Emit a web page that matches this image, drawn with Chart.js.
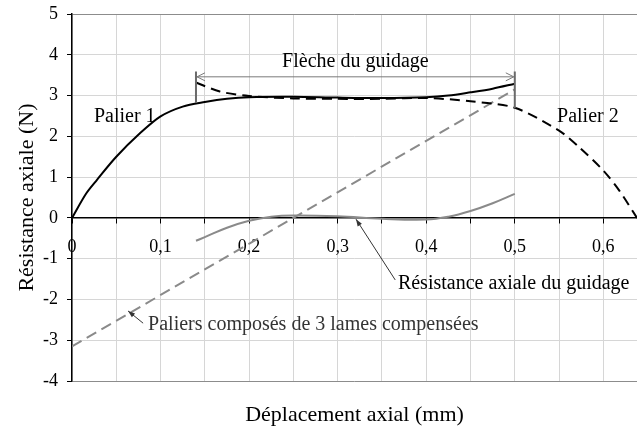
<!DOCTYPE html>
<html>
<head>
<meta charset="utf-8">
<script src="https://cdn.jsdelivr.net/npm/chart.js@4.4.1/dist/chart.umd.min.js"></script>
<style>
  html, body { margin: 0; padding: 0; background: #fff; }
</style>
</head>
<body>
<canvas id="grafica" width="637" height="428"></canvas>
<script>
// Palier 1 (noir, continu)
const palier1X = [0, 0.016, 0.028, 0.05, 0.077, 0.1, 0.125, 0.15, 0.175, 0.2, 0.25, 0.3, 0.35, 0.4, 0.425, 0.45, 0.475, 0.5];
const palier1Y = [0, 0.6, 0.93, 1.5, 2.08, 2.49, 2.73, 2.84, 2.92, 2.96, 2.97, 2.95, 2.94, 2.96, 3.0, 3.08, 3.17, 3.29];

// Palier 2 (noir, pointillé)
const palier2X = [0.14, 0.167, 0.2, 0.25, 0.3, 0.35, 0.4, 0.45, 0.5, 0.55, 0.573, 0.6, 0.618, 0.638];
const palier2Y = [3.32, 3.1, 2.99, 2.93, 2.92, 2.92, 2.94, 2.86, 2.7, 2.14, 1.73, 1.16, 0.67, 0.0];

// Paliers composés de 3 lames compensées (gris, pointillé)
const composesX = [0, 0.25, 0.5];
const composesY = [-3.15, 0, 3.15];

// Résistance axiale du guidage (gris, continu)
const guidageX = [0.14, 0.15, 0.175, 0.2, 0.225, 0.25, 0.3, 0.35, 0.4, 0.425, 0.45, 0.475, 0.5];
const guidageY = [-0.56, -0.47, -0.24, -0.07, 0.03, 0.06, 0.04, -0.02, -0.04, 0.03, 0.17, 0.36, 0.59];

// axes
const yMin = -4, yMax = 5;
const xMin = 0, xMax = 0.638;

const toPts = (xs, ys) => xs.map((x, i) => ({ x: x, y: ys[i] }));

const police = "'Liberation Serif', 'Times New Roman', serif";
Chart.defaults.font.family = police;
Chart.defaults.color = '#000';

// textes et flèches (en unités des axes)
const notes = [
    { text: 'Palier 1', x: 0.0596, y: 2.47, align: 'center', color: '#000' },
    { text: 'Palier 2', x: 0.5825, y: 2.48, align: 'center', color: '#000' },
    { text: 'Flèche du guidage', x: 0.32, y: 3.84, align: 'center', color: '#000' },
    { text: 'Résistance axiale du guidage', x: 0.368, y: -1.62, align: 'left', color: '#000' },
    { text: 'Paliers composés de 3 lames compensées', x: 0.0859, y: -2.61, align: 'left', color: '#333' }
];
const fleches = [
    { x1: 0.365, y1: -1.52, x2: 0.3207, y2: -0.03 },
    { x1: 0.0803, y1: -2.58, x2: 0.0633, y2: -2.28 }
];
const flecheGuidage = { xa: 0.14, xb: 0.5, y: 3.46, barA: [3.59, 2.82], barB: [3.59, 2.69] };

function pointe(ctx, x1, y1, x2, y2, long, larg, pleine) {
    const a = Math.atan2(y2 - y1, x2 - x1);
    ctx.beginPath();
    ctx.moveTo(x2 - long * Math.cos(a) + larg * Math.sin(a), y2 - long * Math.sin(a) - larg * Math.cos(a));
    ctx.lineTo(x2, y2);
    ctx.lineTo(x2 - long * Math.cos(a) - larg * Math.sin(a), y2 - long * Math.sin(a) + larg * Math.cos(a));
    if (pleine) { ctx.closePath(); ctx.fill(); } else { ctx.stroke(); }
}

const annotations = {
    id: 'annotations',
    afterDatasetsDraw(chart) {
        const { ctx, scales: { x, y } } = chart;
        ctx.save();

        // flèche du guidage
        const xa = x.getPixelForValue(flecheGuidage.xa), xb = x.getPixelForValue(flecheGuidage.xb);
        const yf = y.getPixelForValue(flecheGuidage.y);
        ctx.strokeStyle = '#6a6a6a';
        ctx.lineWidth = 2;
        ctx.beginPath();
        ctx.moveTo(xa, y.getPixelForValue(flecheGuidage.barA[0]));
        ctx.lineTo(xa, y.getPixelForValue(flecheGuidage.barA[1]));
        ctx.moveTo(xb, y.getPixelForValue(flecheGuidage.barB[0]));
        ctx.lineTo(xb, y.getPixelForValue(flecheGuidage.barB[1]));
        ctx.stroke();
        ctx.strokeStyle = '#7a7a7a';
        ctx.lineWidth = 1;
        ctx.beginPath();
        ctx.moveTo(xa + 1, yf);
        ctx.lineTo(xb - 1, yf);
        ctx.stroke();
        pointe(ctx, xb, yf, xa + 1, yf, 8, 4, false);
        pointe(ctx, xa, yf, xb - 1, yf, 8, 4, false);

        // petites flèches vers les courbes
        ctx.strokeStyle = '#333';
        ctx.fillStyle = '#333';
        ctx.lineWidth = 1;
        fleches.forEach(f => {
            const x1 = x.getPixelForValue(f.x1), y1 = y.getPixelForValue(f.y1);
            const x2 = x.getPixelForValue(f.x2), y2 = y.getPixelForValue(f.y2);
            ctx.beginPath();
            ctx.moveTo(x1, y1);
            ctx.lineTo(x2, y2);
            ctx.stroke();
            pointe(ctx, x1, y1, x2, y2, 7, 2.5, true);
        });

        // textes
        ctx.font = '20px ' + police;
        ctx.textBaseline = 'middle';
        notes.forEach(n => {
            ctx.fillStyle = n.color;
            ctx.textAlign = n.align;
            ctx.fillText(n.text, x.getPixelForValue(n.x), y.getPixelForValue(n.y));
        });
        ctx.restore();
    }
};

const graficaCanvas = document.getElementById('grafica');
new Chart(graficaCanvas.getContext('2d'), {
    type: 'line',
    data: {
        datasets: [
            {
                label: 'Palier 1',
                data: toPts(palier1X, palier1Y),
                borderColor: '#000',
                borderWidth: 2,
                tension: 0.3
            },
            {
                label: 'Palier 2',
                data: toPts(palier2X, palier2Y),
                borderColor: '#000',
                borderWidth: 2,
                borderDash: [10, 6],
                tension: 0.3
            },
            {
                label: 'Paliers composés de 3 lames compensées',
                data: toPts(composesX, composesY),
                borderColor: '#8a8a8a',
                borderWidth: 2,
                borderDash: [11, 6]
            },
            {
                label: 'Résistance axiale du guidage',
                data: toPts(guidageX, guidageY),
                borderColor: '#8a8a8a',
                borderWidth: 2,
                tension: 0.4
            }
        ]
    },
    options: {
        responsive: false,
        animation: false,
        parsing: false,
        elements: { point: { radius: 0 } },
        layout: { padding: { top: 14, left: 0, right: 0, bottom: 0 } },
        plugins: {
            legend: { display: false },
            tooltip: { enabled: false },
            title: {
                display: true,
                text: 'Déplacement axial (mm)',
                position: 'bottom',
                fullSize: false,
                color: '#000',
                font: { size: 22, weight: 'normal' },
                padding: { top: 20.5, bottom: 0 }
            }
        },
        scales: {
            x: {
                type: 'linear',
                position: { y: 0 },
                min: xMin,
                max: xMax,
                ticks: {
                    stepSize: 0.05,
                    includeBounds: false,
                    autoSkip: false,
                    maxRotation: 0,
                    padding: 14,
                    color: '#000',
                    font: { size: 18 },
                    callback: v => {
                        if (v === 0) return '0';
                        if (Math.abs(v * 10 - Math.round(v * 10)) < 1e-6) return v.toFixed(1).replace('.', ',');
                        return '';
                    }
                },
                grid: { color: '#d6d6d6', tickColor: '#000', tickLength: 5 },
                border: { color: '#000', width: 1.5 },
                afterFit: s => { s.paddingTop = 0; s.paddingBottom = 0; s.paddingLeft = 0; s.paddingRight = 0; }
            },
            y: {
                min: yMin,
                max: yMax,
                ticks: { stepSize: 1, padding: 9, color: '#000', font: { size: 18 } },
                grid: {
                    color: c => (c.tick && (c.tick.value === yMax || c.tick.value === yMin)) ? '#8c8c8c' : '#d6d6d6',
                    tickColor: '#000',
                    tickLength: 5
                },
                border: { color: '#000', width: 1.5 },
                title: {
                    display: true,
                    text: 'Résistance axiale (N)',
                    color: '#000',
                    font: { size: 22 },
                    padding: { top: 14, bottom: 0 }
                },
                afterFit: s => { s.width = 72; s.paddingTop = 0; s.paddingBottom = 0; }
            }
        }
    },
    plugins: [annotations]
});
</script>
</body>
</html>
